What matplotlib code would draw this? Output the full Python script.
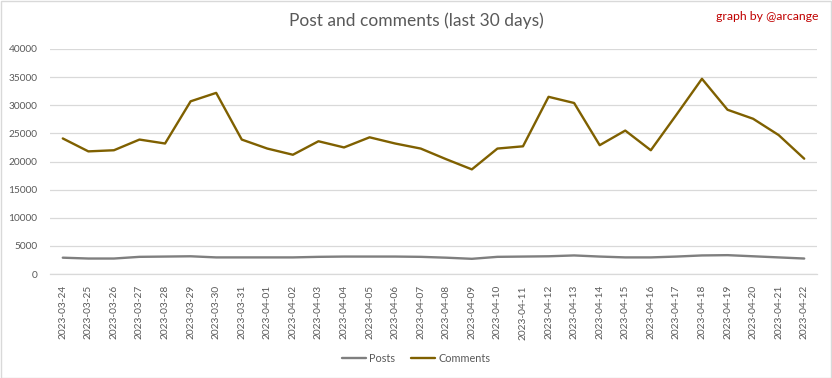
import matplotlib
matplotlib.use("Agg")
import matplotlib.pyplot as plt
import numpy as np
from matplotlib.patches import Rectangle

plt.rcParams["font.family"] = ["Lato", "DejaVu Sans"]

DATES = [f"2023-03-{d:02d}" for d in range(24, 32)] + [f"2023-04-{d:02d}" for d in range(1, 23)]
POSTS = [2900, 2750, 2750, 3050, 3100, 3150, 2950, 2950, 2950, 2950,
         3050, 3100, 3100, 3100, 3050, 2900, 2700, 3050, 3100, 3150,
         3300, 3100, 2950, 2950, 3100, 3300, 3350, 3150, 2950, 2750]
COMMENTS = [24100, 21800, 22000, 23900, 23200, 30700, 32200, 23900, 22300, 21200,
            23600, 22500, 24300, 23200, 22300, 20400, 18600, 22300, 22700, 31500,
            30400, 22900, 25500, 22000, 28300, 34700, 29200, 27600, 24700, 20500]

TEXT = "#595959"
GRID = "#d9d9d9"

fig = plt.figure(figsize=(8.32, 3.78), dpi=100)
ax = fig.add_axes([50 / 832, 1 - 274 / 378, 767 / 832, 225 / 378])

x = np.arange(len(DATES))
ax.plot(x, POSTS, color="#7f7f7f", linewidth=1.7, label="Posts", solid_capstyle="round")
ax.plot(x, COMMENTS, color="#7f6000", linewidth=1.7, label="Comments", solid_capstyle="round")

ax.set_xlim(-0.5, len(DATES) - 0.5)
ax.set_ylim(0, 40000)
ax.set_yticks(np.arange(0, 40001, 5000))
ax.set_xticks(x, DATES, rotation=90)
ax.tick_params(axis="both", length=0, colors=TEXT, labelsize=7.3)
ax.tick_params(axis="y", pad=9)
ax.tick_params(axis="x", pad=8)
ax.grid(axis="y", color=GRID, linewidth=0.9)
ax.set_axisbelow(True)
for side in ["top", "right", "left"]:
    ax.spines[side].set_visible(False)
ax.spines["bottom"].set_color(GRID)
ax.spines["bottom"].set_linewidth(0.9)

fig.text(0.5, 1 - 21 / 378, "Post and comments (last 30 days)", ha="center", va="center",
         fontsize=12.5, color=TEXT)
fig.text(819 / 832, 1 - 16 / 378, "graph by @arcange", ha="right", va="center",
         fontsize=8.8, color="#c00000")

fig.legend(loc="center", bbox_to_anchor=(0.5, 1 - 358 / 378), ncol=2, frameon=False,
           fontsize=7.8, labelcolor=TEXT, handlelength=2.2, handletextpad=0.3, columnspacing=1.5)

fig.patches.append(Rectangle((0.5 / 832, 0.5 / 378), 1 - 1.5 / 832, 1 - 1.5 / 378,
                             transform=fig.transFigure, fill=False, edgecolor=GRID, linewidth=1))

fig.savefig("out.png", dpi=100, facecolor="white")
